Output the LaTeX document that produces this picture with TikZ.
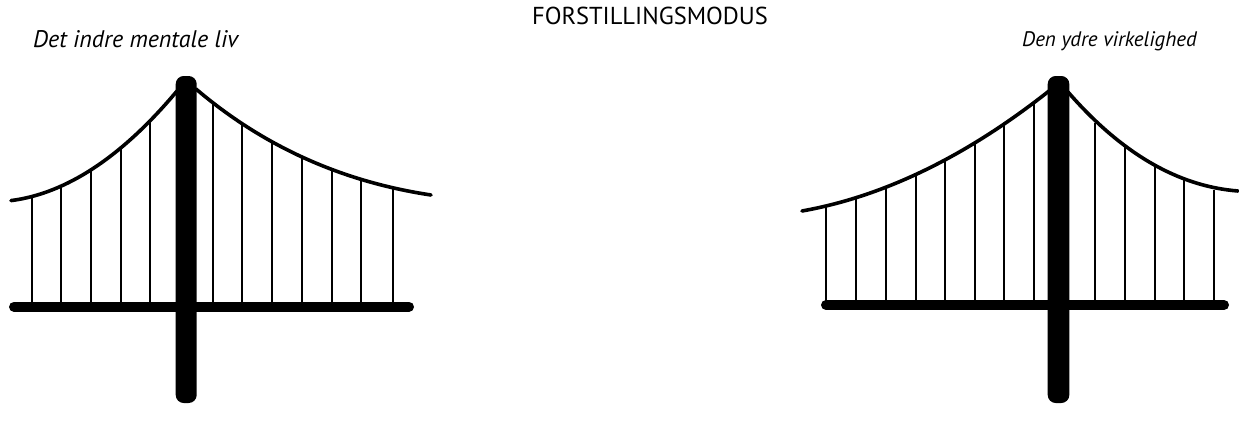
\documentclass[tikz,border=0pt]{standalone}
\usepackage{fontspec}
\setmainfont{PT Sans}
\usepackage{tikz}
\tikzset{>=latex}
\tikzset{
  cable/.style = {line width = 3.6pt, line cap = round},
  hanger/.style = {line width = 1.2pt},
  deck/.style = {line width = 10pt, line cap = round},
  tower/.style = {fill = black, rounded corners = 8pt}
}

\begin{document}
\begin{tikzpicture}[x = 1pt, y = -1pt]
\useasboundingbox (0,0) rectangle (1239,428);

% left bridge
\foreach \x / \y in {32/198, 61/186, 91/168, 121/146, 150/119, 213/103, 242/124, 272/141, 302/156, 332/168, 361/179, 393/189}{
\draw[hanger] (\x, \y) -- (\x, 303);
}
\draw[cable] (11,200.6) .. controls (66.3,193.5) and (121.7,157) .. (177,91);
\draw[cable] (196,89) .. controls (263.3,146.3) and (341.7,181.6) .. (431,195);
\draw[deck] (14, 306.7) -- (409, 306.7);
\fill[tower] (175.7, 76) rectangle (196.7, 403);

% right bridge
\foreach \x / \y in {826/207, 856/199, 886/188, 916/173, 945/160, 975/143, 1004/123, 1034/103, 1095/123, 1125/147, 1155/166, 1184/180, 1214/190}{
\draw[hanger] (\x, \y) -- (\x, 301);
}
\draw[cable] (802,211) .. controls (884.2,196.3) and (966.3,156.3) .. (1049,91);
\draw[cable] (1068,92) .. controls (1121.3,153.3) and (1177.9,186.3) .. (1238,191);
\draw[deck] (826, 305) -- (1224, 305);
\fill[tower] (1047.7, 76) rectangle (1069.3, 403);

% labels
\node[anchor = base] (title) at (650, 25) {\fontsize{24.5}{28}\selectfont FORSTILLINGSMODUS};
\node[anchor = base west, inner sep = 0pt] (indre) at (33, 48) {\fontsize{24}{28}\selectfont\itshape Det indre mentale liv};
\node[anchor = base west, inner sep = 0pt] (ydre) at (1022, 47) {\fontsize{21}{25}\selectfont\itshape Den ydre virkelighed};
\end{tikzpicture}
\end{document}
